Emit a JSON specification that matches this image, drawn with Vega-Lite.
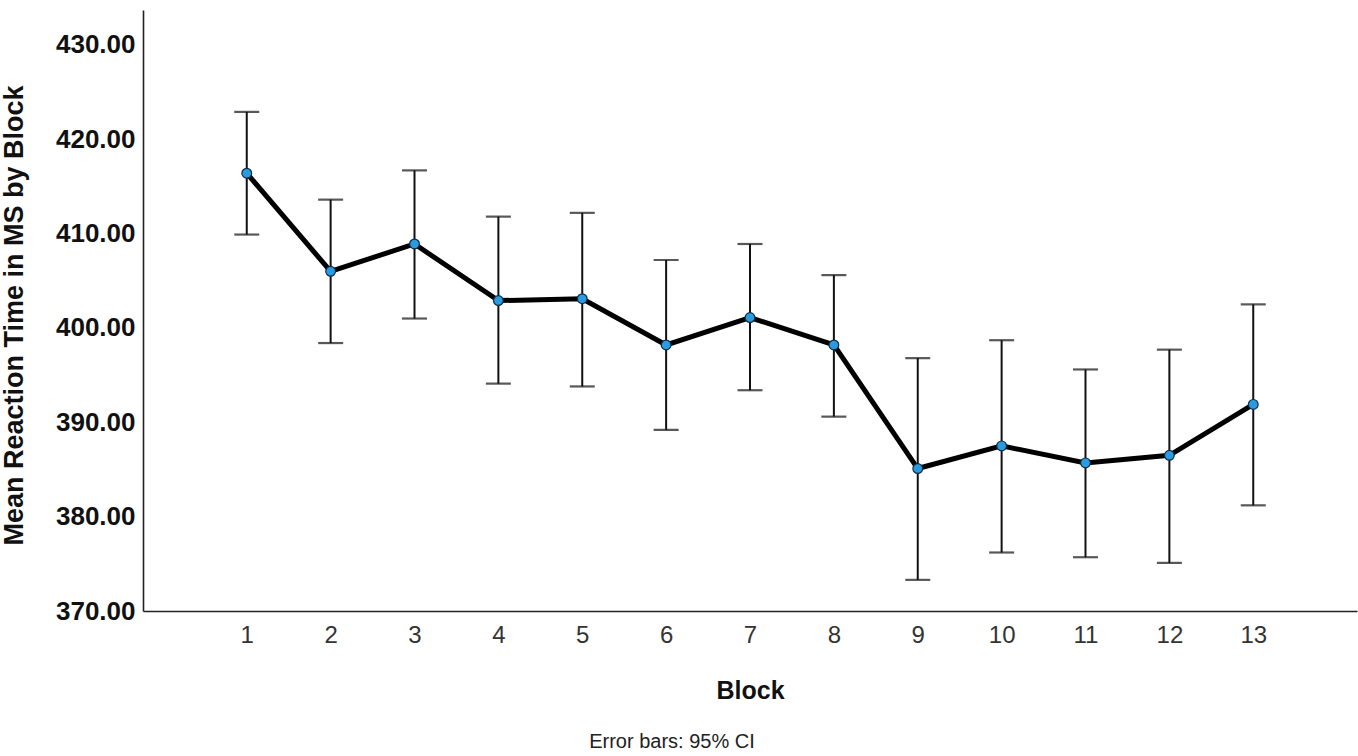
{
  "$schema": "https://vega.github.io/schema/vega-lite/v6.json",
  "autosize": {"type": "none"},
  "padding": {"left": 143, "top": 10, "right": 1, "bottom": 145},
  "width": 1214,
  "height": 601,
  "background": "white",
  "config": {
    "view": {"stroke": null},
    "font": "Liberation Sans",
    "axis": {"grid": false, "ticks": false, "domainColor": "#222222", "domainWidth": 1.6}
  },
  "title": {
    "text": "Error bars: 95% CI",
    "orient": "bottom",
    "anchor": "middle",
    "dx": -78,
    "offset": 29,
    "fontSize": 20,
    "fontWeight": "normal",
    "color": "#222222"
  },
  "data": {
    "values": [
      {"block": 1, "mean": 416.4, "lower": 409.9, "upper": 422.9},
      {"block": 2, "mean": 406.0, "lower": 398.4, "upper": 413.6},
      {"block": 3, "mean": 408.9, "lower": 401.0, "upper": 416.7},
      {"block": 4, "mean": 402.9, "lower": 394.1, "upper": 411.8},
      {"block": 5, "mean": 403.1, "lower": 393.8, "upper": 412.2},
      {"block": 6, "mean": 398.2, "lower": 389.2, "upper": 407.2},
      {"block": 7, "mean": 401.1, "lower": 393.4, "upper": 408.9},
      {"block": 8, "mean": 398.2, "lower": 390.6, "upper": 405.6},
      {"block": 9, "mean": 385.1, "lower": 373.3, "upper": 396.8},
      {"block": 10, "mean": 387.5, "lower": 376.2, "upper": 398.7},
      {"block": 11, "mean": 385.7, "lower": 375.7, "upper": 395.6},
      {"block": 12, "mean": 386.5, "lower": 375.1, "upper": 397.7},
      {"block": 13, "mean": 391.9, "lower": 381.2, "upper": 402.5}
    ]
  },
  "encoding": {
    "x": {
      "field": "block",
      "type": "quantitative",
      "title": "Block",
      "scale": {"domain": [-0.237, 14.237], "nice": false, "zero": false},
      "axis": {
        "values": [1, 2, 3, 4, 5, 6, 7, 8, 9, 10, 11, 12, 13],
        "format": "d",
        "labelAngle": 0,
        "labelFontSize": 24,
        "labelColor": "#333333",
        "labelPadding": 12,
        "titleFontSize": 25,
        "titleFontWeight": "bold",
        "titleColor": "#111111",
        "titleBaseline": "alphabetic",
        "titleY": 87
      }
    }
  },
  "layer": [
    {
      "mark": {"type": "rule", "color": "#111111", "strokeWidth": 2},
      "encoding": {
        "y": {
          "field": "lower",
          "type": "quantitative",
          "title": "Mean Reaction Time in MS by Block",
          "scale": {"domain": [370, 433.7], "nice": false, "zero": false},
          "axis": {
            "values": [370, 380, 390, 400, 410, 420, 430],
            "format": ".2f",
            "labelFontSize": 26,
            "labelFontWeight": "bold",
            "labelColor": "#111111",
            "labelPadding": 8,
            "titleFontSize": 27,
            "titleFontWeight": "bold",
            "titleColor": "#111111",
            "titleX": -115,
            "titleY": 305
          }
        },
        "y2": {"field": "upper"}
      }
    },
    {
      "mark": {"type": "tick", "orient": "horizontal", "color": "#111111", "thickness": 2.2, "size": 25},
      "encoding": {"y": {"field": "lower", "type": "quantitative"}}
    },
    {
      "mark": {"type": "tick", "orient": "horizontal", "color": "#111111", "thickness": 2.2, "size": 25},
      "encoding": {"y": {"field": "upper", "type": "quantitative"}}
    },
    {
      "mark": {"type": "line", "color": "#000000", "strokeWidth": 5},
      "encoding": {"y": {"field": "mean", "type": "quantitative"}}
    },
    {
      "mark": {"type": "point", "filled": true, "fill": "#2b9be0", "stroke": "#0d2b45", "strokeWidth": 1.2, "size": 95, "opacity": 1},
      "encoding": {"y": {"field": "mean", "type": "quantitative"}}
    }
  ]
}
